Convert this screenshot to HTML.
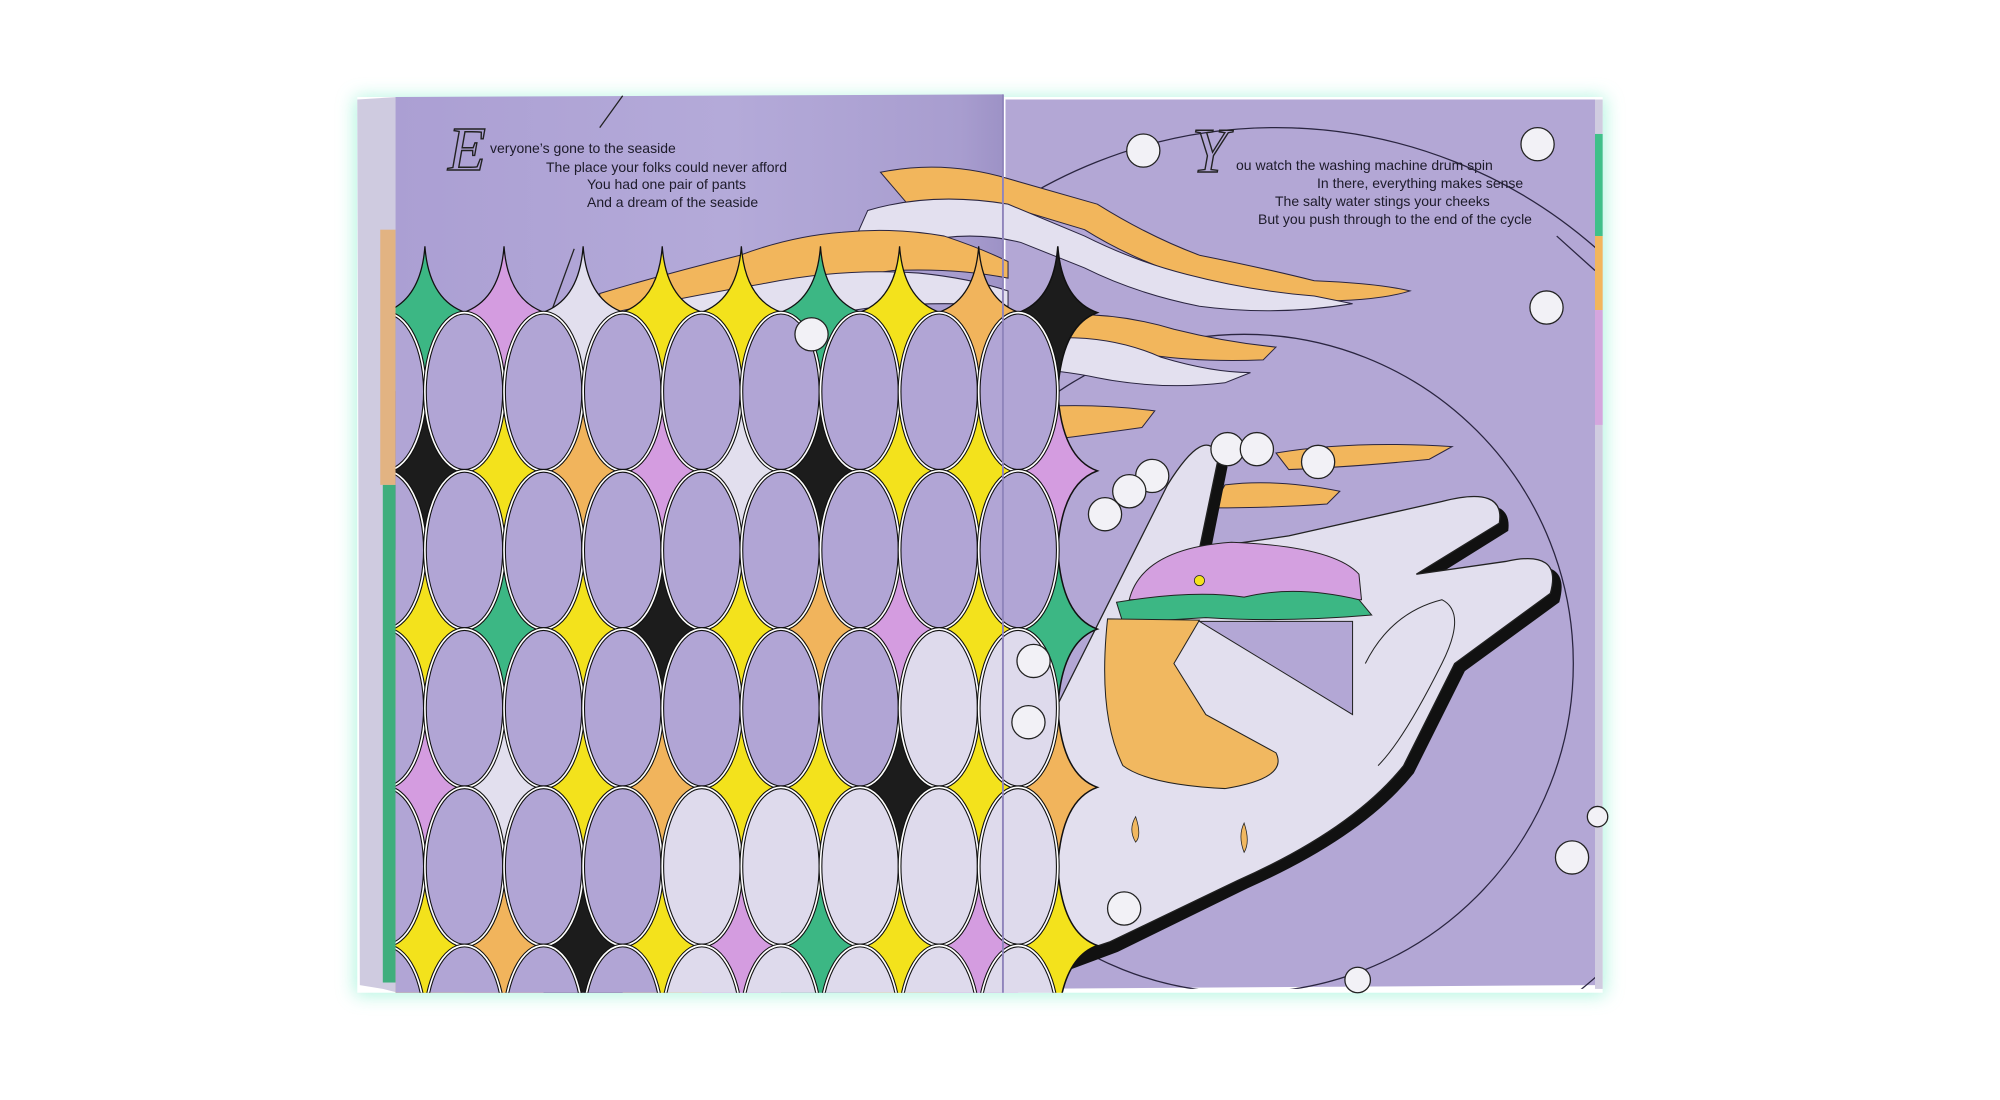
<!DOCTYPE html>
<html><head><meta charset="utf-8"><style>
html,body{margin:0;padding:0;background:#fff;width:2000px;height:1100px;overflow:hidden}
svg{position:absolute;left:0;top:0}
.t{font-family:"Liberation Sans",sans-serif;font-size:14px;fill:#1d1b2a}
.s{font-family:"Liberation Serif",serif;font-style:italic;fill:none;stroke:#222;stroke-width:1.4}
</style></head><body>
<svg width="2000" height="1100" viewBox="0 0 2000 1100">
<defs>
<filter id="bl" x="-20%" y="-20%" width="140%" height="140%"><feGaussianBlur stdDeviation="7"/></filter>
<linearGradient id="lp" x1="0" x2="1" y1="0" y2="0">
<stop offset="0" stop-color="#ab9fd3"/><stop offset="0.55" stop-color="#b4aad9"/><stop offset="0.93" stop-color="#a89dcf"/><stop offset="1" stop-color="#9d92c6"/></linearGradient>
<clipPath id="gc"><rect x="310" y="190" width="555" height="588"/></clipPath>
<clipPath id="rp"><rect x="788" y="78" width="462" height="697"/></clipPath>
</defs>
<g transform="scale(1.276)">
<rect x="278" y="76" width="980" height="704" fill="#9ef2d8" filter="url(#bl)" opacity="0.8"/>
<rect x="280" y="76" width="976" height="702" fill="#fff"/>
<polygon points="280,78 312,76 312,778 300,775 282,772" fill="#cfcbe0"/>
<rect x="300" y="380" width="10" height="390" fill="#3fae7d"/>
<rect x="298" y="180" width="12" height="200" fill="#eaa85a" opacity="0.7"/>
<polygon points="310,76 786,74 786,778 310,778" fill="url(#lp)"/>
<polygon points="788,78 1250,78 1250,772 788,775" fill="#b3a7d5"/>
<rect x="1250" y="78" width="6" height="697" fill="#d0cce0"/>
<rect x="1250" y="105" width="6" height="80" fill="#3fc08a"/>
<rect x="1250" y="185" width="6" height="58" fill="#f2b65c"/>
<rect x="1250" y="243" width="6" height="90" fill="#d4a6de"/>
<g clip-path="url(#rp)" fill="none" stroke="#2a2540" stroke-width="1">
<circle cx="975" cy="520" r="258"/>
<circle cx="1000" cy="480" r="380"/>
<line x1="1220" y1="185" x2="1250" y2="212"/>
</g>
<line x1="470" y1="100" x2="488" y2="75" stroke="#222" stroke-width="1"/>
<line x1="430" y1="250" x2="450" y2="195" stroke="#222" stroke-width="1"/>
<g stroke="#2a2540" stroke-width="0.8">
<path d="M690,135 Q740,125 790,140 L860,160 Q900,185 940,200 Q990,210 1030,220 Q1080,222 1105,228 Q1080,236 1030,236 Q980,232 940,220 Q890,205 850,180 L800,165 Q760,158 720,170 Z" fill="#f2b65c"/>
<path d="M680,165 Q730,150 790,160 L850,185 Q890,205 930,215 Q980,228 1030,232 L1060,238 Q1000,248 940,240 Q890,230 850,210 L800,190 Q760,180 720,190 Q690,200 660,210 Z" fill="#e3e0ef"/>
<path d="M470,230 Q520,215 580,200 Q620,185 660,182 Q700,178 740,185 Q770,195 790,205 L790,218 Q750,210 700,212 Q640,220 580,235 Q520,245 470,250 Z" fill="#f2b65c"/>
<path d="M480,245 Q540,232 600,222 Q660,210 720,214 Q760,218 790,228 L790,240 Q740,236 690,240 Q620,250 560,262 Q520,270 470,272 Z" fill="#e3e0ef"/>
<path d="M800,250 Q860,240 920,258 Q960,268 1000,272 L990,282 Q940,284 900,278 Q850,272 800,272 Z" fill="#f2b65c"/>
<path d="M820,265 Q870,262 910,280 Q950,292 980,292 L960,300 Q910,306 860,296 Q830,290 810,290 Z" fill="#e3e0ef"/>
<path d="M800,320 Q850,315 905,322 L895,335 Q860,340 820,345 L800,345 Z" fill="#f2b65c"/>
<path d="M1000,355 Q1060,345 1138,350 L1120,360 Q1060,366 1010,368 Z" fill="#f2b65c"/>
<path d="M960,380 Q1000,375 1050,385 L1040,395 Q1000,398 950,398 Z" fill="#f2b65c"/>
</g>
<path d="M806,618 L876,478 L922,388 Q952,340 962,366 L948,436 L1018,426 L1136,400 Q1186,386 1182,416 L1118,456 L1188,446 Q1232,436 1222,472 L1148,526 L1108,606 Q1068,656 978,696 L876,746 L806,772 Z" fill="#111"/>
<path d="M800,610 L870,470 L915,380 Q945,332 955,358 L940,430 L1010,420 L1130,393 Q1180,380 1175,410 L1110,450 L1180,440 Q1225,430 1215,465 L1140,520 L1100,600 Q1060,650 970,690 L870,738 L798,762 Z" fill="#e2dfee" stroke="#222" stroke-width="1"/>
<path d="M1070,520 Q1090,480 1130,470 Q1150,480 1130,520 Q1100,580 1080,600" fill="none" stroke="#222" stroke-width="0.8"/>
<path d="M885,470 Q895,430 965,425 Q1045,428 1065,450 L1067,470 Z" fill="#d4a0e0" stroke="#222" stroke-width="0.8"/>
<path d="M875,472 Q935,462 975,468 Q1015,458 1065,470 L1075,482 Q1005,488 945,484 L880,488 Z" fill="#3cb784" stroke="#222" stroke-width="0.8"/>
<path d="M868,485 L940,486 L920,520 L945,560 L1000,590 Q1010,610 960,618 Q900,615 880,600 Q860,560 868,485 Z" fill="#f1b860" stroke="#222" stroke-width="0.8"/>
<path d="M940,487 L1060,487 L1060,560 Z" fill="#b3a7d5" stroke="#222" stroke-width="0.8"/>
<circle cx="940" cy="455" r="4" fill="#f3e21c" stroke="#222" stroke-width="0.6"/>
<path d="M890,640 Q895,655 890,660 Q884,650 890,640 Z M975,645 Q980,660 975,668 Q970,655 975,645 Z" fill="#f1b860" stroke="#222" stroke-width="0.6"/>
<g clip-path="url(#gc)" id="grid"></g>
<line x1="786" y1="74" x2="786" y2="778" stroke="#8f84bb" stroke-width="1.5"/>
<g fill="#f2f1f6" stroke="#222" stroke-width="1">
<circle cx="896" cy="118" r="13"/><circle cx="1205" cy="113" r="13"/><circle cx="1212" cy="241" r="13"/>
<circle cx="636" cy="262" r="13"/><circle cx="962" cy="352" r="13"/><circle cx="985" cy="352" r="13"/>
<circle cx="1033" cy="362" r="13"/><circle cx="903" cy="373" r="13"/><circle cx="885" cy="385" r="13"/>
<circle cx="866" cy="403" r="13"/><circle cx="810" cy="518" r="13"/><circle cx="806" cy="566" r="13"/>
<circle cx="881" cy="712" r="13"/><circle cx="1232" cy="672" r="13"/><circle cx="1064" cy="768" r="10"/>
<circle cx="1252" cy="640" r="8"/>
</g>
</g>
<text class="s" x="448" y="170" font-size="62">E</text>
<text class="s" x="1192" y="172" font-size="64">Y</text>
<text class="t" x="490" y="153">veryone’s gone to the seaside</text>
<text class="t" x="546" y="172">The place your folks could never afford</text>
<text class="t" x="587" y="189">You had one pair of pants</text>
<text class="t" x="587" y="207">And a dream of the seaside</text>
<text class="t" x="1236" y="170">ou watch the washing machine drum spin</text>
<text class="t" x="1317" y="188">In there, everything makes sense</text>
<text class="t" x="1275" y="206">The salty water stings your cheeks</text>
<text class="t" x="1258" y="224">But you push through to the end of the cycle</text>
</svg>
<script>
(function(){
var C={G:"#3cb784",P:"#d49ce0",W:"#e2dfee",Y:"#f3e21c",O:"#f1b45c",K:"#1c1c1c"};
var rows=["GPWYYGYOK","KYOPWKYYP","YGYKYOPYG","PWYOYYKYO","YOKYPGYPY","WYWKWYWKW"];
var g=document.getElementById("grid"),s="";
for(var j=0;j<6;j++)for(var i=0;i<9;i++){var cx=333+62*i,cy=245+124*j,c=C[rows[j][i]];
if(i==8){var t=(j==0)?52:62;s+='<path d="M'+cx+','+(cy-t)+' Q'+(cx+3)+','+(cy-10)+' '+(cx+31)+','+cy+' Q'+(cx+3)+','+(cy+10)+' '+cx+','+(cy+62)+' Q'+(cx-3)+','+(cy+10)+' '+(cx-31)+','+cy+' Q'+(cx-3)+','+(cy-10)+' '+cx+','+(cy-t)+' Z" fill="'+c+'" stroke="#111" stroke-width="1.2"/>';}
else if(j==0){s+='<path d="M'+cx+','+(cy-52)+' Q'+(cx+3)+','+(cy-10)+' '+(cx+32)+','+cy+' L'+(cx+32)+','+(cy+62)+' L'+(cx-32)+','+(cy+62)+' L'+(cx-32)+','+cy+' Q'+(cx-3)+','+(cy-10)+' '+cx+','+(cy-52)+' Z" fill="'+c+'" stroke="#111" stroke-width="1"/>';}
else s+='<rect x="'+(cx-31)+'" y="'+(cy-62)+'" width="62" height="124" fill="'+c+'"/>';}
for(var j=1;j<6;j++)for(var i=-1;i<8;i++){var cx=364+62*i,cy=183+124*j;
var f=(cy>=679&&i>=3)||(cy>=555&&i>=6&&i<=7)?"#dedaec":"#b1a5d5";
s+='<ellipse cx="'+cx+'" cy="'+cy+'" rx="31" ry="62" fill="'+f+'" stroke="#111" stroke-width="3"/>';
s+='<ellipse cx="'+cx+'" cy="'+cy+'" rx="31" ry="62" fill="none" stroke="#fff" stroke-width="1.3"/>';}
g.innerHTML=s;
})();
</script>
</body></html>
